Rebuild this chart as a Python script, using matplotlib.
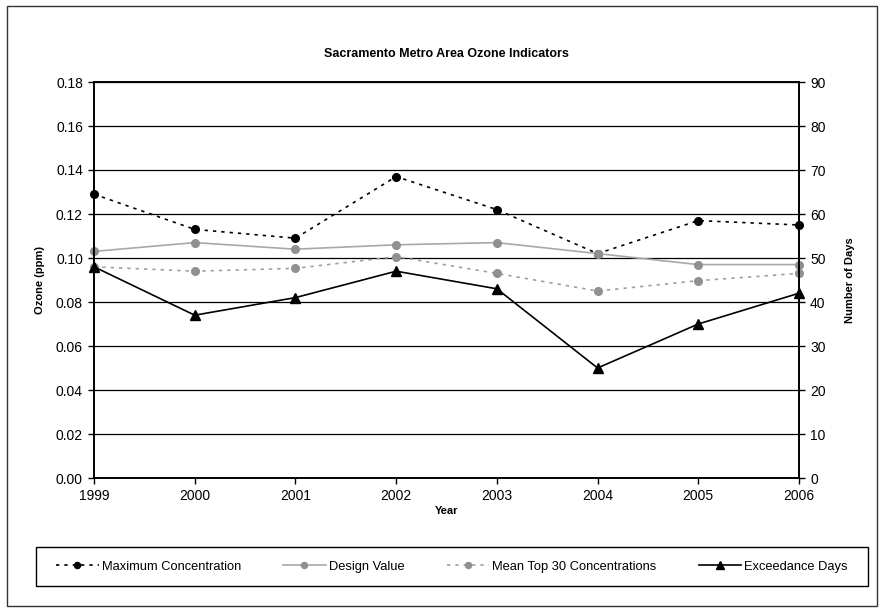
import matplotlib
matplotlib.use("Agg")
from matplotlib import pyplot as plt
from matplotlib.patches import Rectangle

plt.rcParams["font.family"] = ["Liberation Sans", "DejaVu Sans"]

years = [1999, 2000, 2001, 2002, 2003, 2004, 2005, 2006]
max_conc = [0.129, 0.113, 0.109, 0.137, 0.122, 0.102, 0.117, 0.115]
design_value = [0.103, 0.107, 0.104, 0.106, 0.107, 0.102, 0.097, 0.097]
mean_top30 = [0.096, 0.094, 0.0953, 0.1006, 0.093, 0.085, 0.0897, 0.093]
exceed_days = [48, 37, 41, 47, 43, 25, 35, 42]

W, H = 884, 612
fig = plt.figure(figsize=(W / 100, H / 100), dpi=100)
ax = fig.add_axes([94 / W, 1 - 478 / H, 705 / W, 396 / H])
ax2 = ax.twinx()

# outer chart border and legend box
fig.patches.append(Rectangle((7 / W, 6 / H), 870 / W, 600 / H,
                             transform=fig.transFigure, fill=False,
                             edgecolor="#333333", linewidth=1.0))
fig.patches.append(Rectangle((36 / W, 1 - 586 / H), 832 / W, 39 / H,
                             transform=fig.transFigure, fill=False,
                             edgecolor="black", linewidth=1.0))

l1, = ax.plot(years, max_conc, color="black", linestyle=(0, (2, 3)),
              linewidth=1.2, marker="o", markersize=5.5, clip_on=False,
              label="Maximum Concentration")
l2, = ax.plot(years, design_value, color="#a8a8a8", linewidth=1.2,
              marker="o", markersize=5.5, markerfacecolor="#909090",
              markeredgecolor="#909090", clip_on=False, label="Design Value")
l3, = ax.plot(years, mean_top30, color="#a0a0a0", linestyle=(0, (2, 3)),
              linewidth=1.2, marker="o", markersize=5.5, markerfacecolor="#909090",
              markeredgecolor="#909090", clip_on=False,
              label="Mean Top 30 Concentrations")
l4, = ax2.plot(years, exceed_days, color="black", linewidth=1.2,
               marker="^", markersize=6.5, clip_on=False, label="Exceedance Days")

ax.set_xlim(1999, 2006)
ax.set_ylim(0, 0.18)
ax.set_yticks([i * 0.02 for i in range(10)])
ax.set_yticklabels([f"{i * 0.02:.2f}" for i in range(10)])
ax.set_xticks(years)
ax2.set_ylim(0, 90)
ax2.set_yticks(range(0, 91, 10))

ax.yaxis.grid(True, color="black", linewidth=0.9)
ax.set_axisbelow(True)
for a in (ax, ax2):
    for s in a.spines.values():
        s.set_linewidth(1.2)
    a.tick_params(labelsize=10, length=4, width=1, direction="out", pad=4)

ax.set_xlabel("Year", fontsize=8, fontweight="bold", labelpad=2)
ax.set_ylabel("Ozone (ppm)", fontsize=8, fontweight="bold", labelpad=8)
ax2.set_ylabel("Number of Days", fontsize=8, fontweight="bold", labelpad=14)
ax.set_title("Sacramento Metro Area Ozone Indicators", fontsize=9,
             fontweight="bold", pad=18)

fig.legend(handles=[l1, l2, l3, l4], loc="center",
           bbox_to_anchor=(452 / W, 1 - 566.5 / H), ncol=4,
           fontsize=9.3, frameon=False, handlelength=3.3, columnspacing=3.25,
           handletextpad=0.25, markerscale=0.8, borderaxespad=0)

fig.savefig("out.png", dpi=100)
